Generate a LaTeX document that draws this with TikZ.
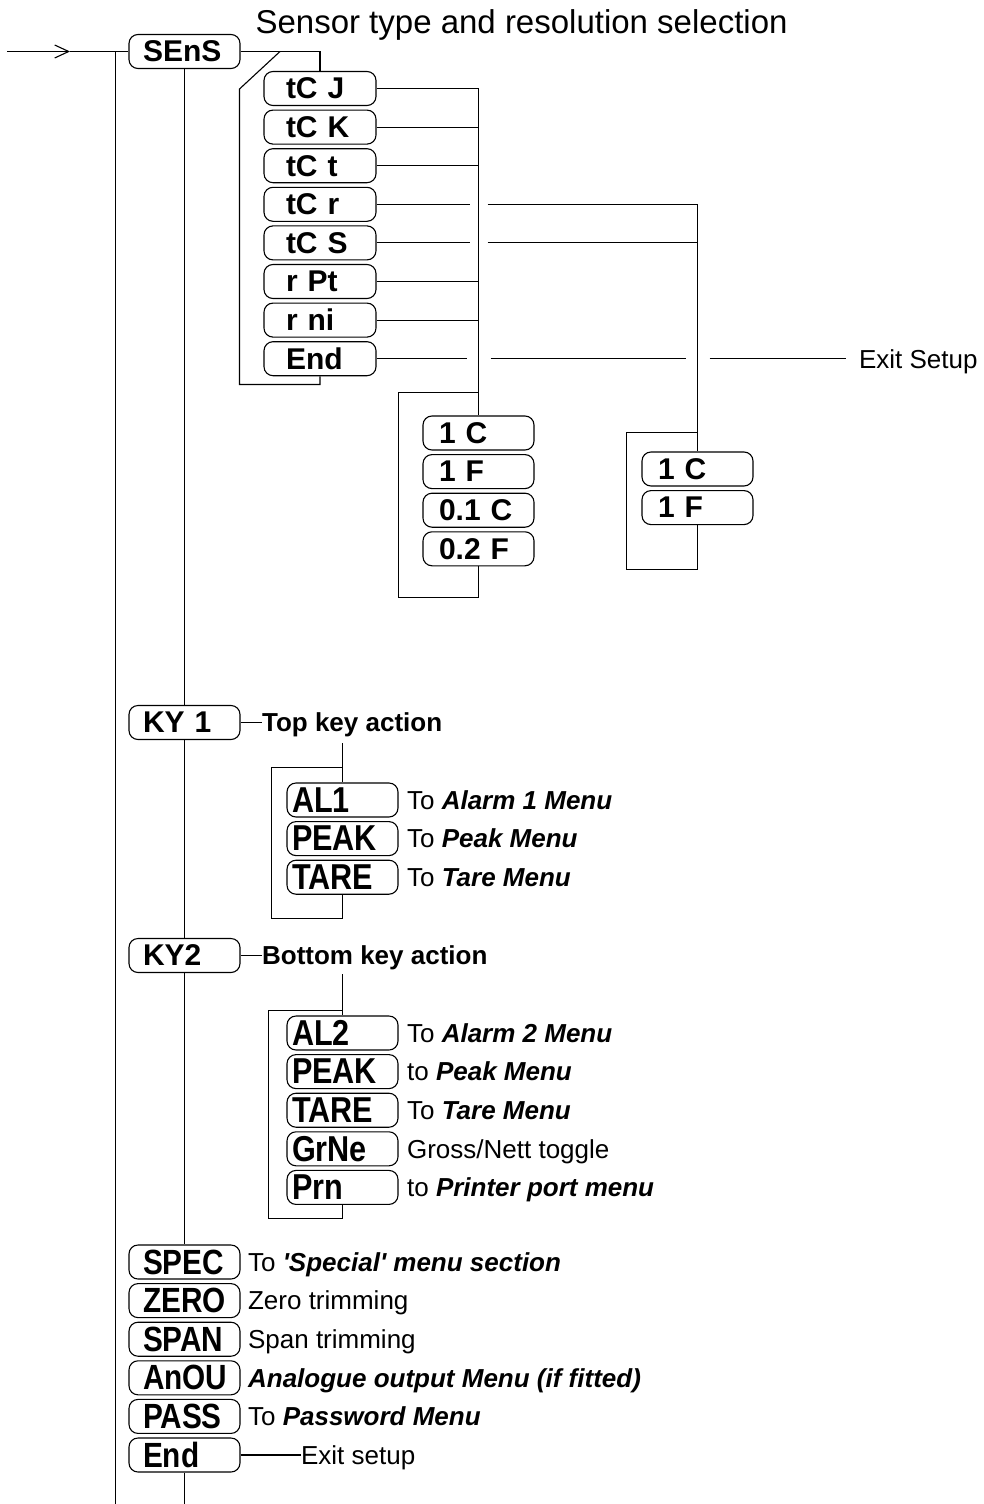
\documentclass[tikz,border=0pt]{standalone}
\usepackage{fontspec}
\setmainfont{Liberation Sans}
\newfontfamily\narrowfont[FakeStretch=0.85]{Liberation Sans}
\usetikzlibrary{positioning, calc, arrows.meta}

\begin{document}
\begin{tikzpicture}[
  x=1pt, y=-1pt,
  line width=1.1pt,
  node distance = 3.5pt,
  topNode/.style   ={rectangle, rounded corners=9pt, draw=black, minimum height=34pt, text width=83pt, inner xsep=14pt, inner ysep=0pt, align=left, font=\fontsize{30}{30}\selectfont\bfseries},
  sensNode/.style  ={rectangle, rounded corners=9pt, draw=black, minimum height=34pt, text width=68pt, inner xsep=22pt, inner ysep=0pt, align=left, font=\fontsize{30}{30}\selectfont\bfseries},
  resNode/.style   ={rectangle, rounded corners=9pt, draw=black, minimum height=34pt, text width=79pt, inner xsep=16pt, inner ysep=0pt, align=left, font=\fontsize{30}{30}\selectfont\bfseries},
  keyNode/.style   ={rectangle, rounded corners=9pt, draw=black, minimum height=34pt, text width=101pt, inner xsep=5pt, inner ysep=0pt, align=left, font=\narrowfont\fontsize{36}{36}\selectfont\bfseries},
  menuNode/.style  ={rectangle, rounded corners=9pt, draw=black, minimum height=34pt, text width=83pt, inner xsep=14pt, inner ysep=0pt, align=left, font=\narrowfont\fontsize{35}{35}\selectfont\bfseries},
  descText/.style  ={anchor=west, inner sep=0pt, text height=18.6pt, text depth=0pt, font=\fontsize{26}{28}\selectfont},
  headText/.style  ={anchor=west, inner sep=0pt, text height=18.6pt, text depth=0pt, font=\fontsize{26}{28}\selectfont\bfseries},
  titleText/.style ={anchor=west, inner sep=0pt, text height=23pt, text depth=0pt, font=\fontsize{33}{35}\selectfont},
  arrow/.style     ={-{Straight Barb[length=14pt,width=13pt]}}
]
\useasboundingbox (0,0) rectangle (983,1504);

% ================== ENTRY ==================
\node[topNode] (SEnS) at (184.5,51.5) {SEnS};
\node[titleText] (title) at (255,22) {Sensor type and resolution selection};

\coordinate (entry) at (7,51.5);
\coordinate (tip) at (70,51.5);
\coordinate (mainTop) at (115.5,51.5);
\coordinate (mainBot) at (115.5,1504);
\draw[arrow] (entry) -- (tip);
\draw (tip) -- (SEnS.west);
\draw (mainTop) -- (mainBot);

% ================== SENSOR LIST ==================
\node[sensNode] (tcJ) at (320,88.5) {tC J};
\node[sensNode, below=of tcJ] (tcK) {tC K};
\node[sensNode, below=of tcK] (tcT) {tC t};
\node[sensNode, below=of tcT] (tcR) {tC r};
\node[sensNode, below=of tcR] (tcS) {tC S};
\node[sensNode, below=of tcS] (rPt) {r Pt};
\node[sensNode, below=of rPt] (rNi) {r ni};
\node[sensNode, below=of rNi] (tcEnd) {End};

\draw (SEnS.east) -| (tcJ.north);

% return path round the list
\coordinate (loopA) at (280,51.5);
\coordinate (loopB) at (239.5,89);
\coordinate (loopC) at (239.5,384.5);
\draw (loopA) -- (loopB) -- (loopC) -| (tcEnd.south);

% ================== BUS TO RESOLUTION ==================
\coordinate (busOneTop) at (478.5,88);
\coordinate (busOneFork) at (478.5,392.5);
\coordinate (busTwoTop) at (697.5,0);
\coordinate (busTwoFork) at (697.5,432.5);

\draw (tcJ.east) -- (tcJ.east -| busOneTop);
\draw (tcK.east) -- (tcK.east -| busOneTop);
\draw (tcT.east) -- (tcT.east -| busOneTop);
\draw (rPt.east) -- (rPt.east -| busOneTop);
\draw (rNi.east) -- (rNi.east -| busOneTop);

% tC r and tC S hop over the first bus
\draw (tcR.east) -- ($(tcR.east -| busOneTop)+(-9,0)$);
\draw ($(tcR.east -| busOneTop)+(9,0)$) -- (tcR.east -| busTwoTop);
\draw (tcS.east) -- ($(tcS.east -| busOneTop)+(-9,0)$);
\draw ($(tcS.east -| busOneTop)+(9,0)$) -- (tcS.east -| busTwoTop);

% End hops over both buses
\node[descText, right=482pt of tcEnd] (exitTop) {Exit Setup};
\draw (tcEnd.east) -- ($(tcEnd.east -| busOneTop)+(-12,0)$);
\draw ($(tcEnd.east -| busOneTop)+(12,0)$) -- ($(tcEnd.east -| busTwoTop)+(-12,0)$);
\draw ($(tcEnd.east -| busTwoTop)+(12,0)$) -- ($(tcEnd.east -| exitTop.west)+(-13,0)$);

% ================== RESOLUTION (tC J, K, t, r Pt, r ni) ==================
\node[resNode] (resOneC) at (478.5,433) {1 C};
\node[resNode, below=of resOneC] (resOneF) {1 F};
\node[resNode, below=of resOneF] (resPointOneC) {0.1 C};
\node[resNode, below=of resPointOneC] (resPointTwoF) {0.2 F};

\coordinate (resOneLeft) at (398.5,392.5);
\coordinate (resOneLow) at (398.5,597.5);
\draw (tcJ.east -| busOneTop) -- (busOneFork) -- (resOneC.north);
\draw (busOneFork) -- (resOneLeft) -- (resOneLow) -| (resPointTwoF.south);

% ================== RESOLUTION (tC r, tC S) ==================
\node[resNode] (resTwoC) at (697.5,469) {1 C};
\node[resNode, below=of resTwoC] (resTwoF) {1 F};

\coordinate (resTwoLeft) at (626.5,432.5);
\coordinate (resTwoLow) at (626.5,569.5);
\draw (tcR.east -| busTwoTop) -- (busTwoFork) -- (resTwoC.north);
\draw (busTwoFork) -- (resTwoLeft) -- (resTwoLow) -| (resTwoF.south);

% ================== TOP KEY ==================
\node[topNode] (KYone) at (184.5,722.5) {KY 1};
\node[headText, right=21pt of KYone] (KYoneHead) {Top key action};
\draw (SEnS.south) -- (KYone.north);
\draw (KYone.east) -- (KYone.east -| KYoneHead.west);

\node[keyNode] (keyOneAL) at (342.5,800) {AL1};
\node[keyNode, below=of keyOneAL] (keyOnePEAK) {PEAK};
\node[keyNode, below=of keyOnePEAK] (keyOneTARE) {TARE};
\node[descText, right=8pt of keyOneAL] (descOneAL) {To \textbf{\textit{Alarm 1 Menu}}};
\node[descText, right=8pt of keyOnePEAK] (descOnePEAK) {To \textbf{\textit{Peak Menu}}};
\node[descText, right=8pt of keyOneTARE] (descOneTARE) {To \textbf{\textit{Tare Menu}}};

\coordinate (keyOneTop) at (342.5,743);
\coordinate (keyOneFork) at (342.5,767.5);
\coordinate (keyOneLeft) at (271.5,767.5);
\coordinate (keyOneLow) at (271.5,918.5);
\draw (keyOneTop) -- (keyOneAL.north);
\draw (keyOneFork) -- (keyOneLeft) -- (keyOneLow) -| (keyOneTARE.south);

% ================== BOTTOM KEY ==================
\node[topNode] (KYtwo) at (184.5,955.5) {KY2};
\node[headText, right=21pt of KYtwo] (KYtwoHead) {Bottom key action};
\draw (KYone.south) -- (KYtwo.north);
\draw (KYtwo.east) -- (KYtwo.east -| KYtwoHead.west);

\node[keyNode] (keyTwoAL) at (342.5,1033) {AL2};
\node[keyNode, below=of keyTwoAL] (keyTwoPEAK) {PEAK};
\node[keyNode, below=of keyTwoPEAK] (keyTwoTARE) {TARE};
\node[keyNode, below=of keyTwoTARE] (keyTwoGrNe) {GrNe};
\node[keyNode, below=of keyTwoGrNe] (keyTwoPrn) {Prn};
\node[descText, right=8pt of keyTwoAL] (descTwoAL) {To \textbf{\textit{Alarm 2 Menu}}};
\node[descText, right=8pt of keyTwoPEAK] (descTwoPEAK) {to \textbf{\textit{Peak Menu}}};
\node[descText, right=8pt of keyTwoTARE] (descTwoTARE) {To \textbf{\textit{Tare Menu}}};
\node[descText, right=8pt of keyTwoGrNe] (descTwoGrNe) {Gross/Nett toggle};
\node[descText, right=8pt of keyTwoPrn] (descTwoPrn) {to \textbf{\textit{Printer port menu}}};

\coordinate (keyTwoTop) at (342.5,974);
\coordinate (keyTwoFork) at (342.5,1010.5);
\coordinate (keyTwoLeft) at (268.5,1010.5);
\coordinate (keyTwoLow) at (268.5,1218.5);
\draw (keyTwoTop) -- (keyTwoAL.north);
\draw (keyTwoFork) -- (keyTwoLeft) -- (keyTwoLow) -| (keyTwoPrn.south);

% ================== REMAINING MENU ==================
\node[menuNode] (menuSPEC) at (184.5,1262) {SPEC};
\node[menuNode, below=of menuSPEC] (menuZERO) {ZERO};
\node[menuNode, below=of menuZERO] (menuSPAN) {SPAN};
\node[menuNode, below=of menuSPAN] (menuAnOU) {AnOU};
\node[menuNode, below=of menuAnOU] (menuPASS) {PASS};
\node[menuNode, below=of menuPASS] (menuEnd) {End};
\draw (KYtwo.south) -- (menuSPEC.north);

\node[descText, right=7pt of menuSPEC] (descSPEC) {To \textbf{\textit{\textquotesingle Special\textquotesingle{} menu section}}};
\node[descText, right=7pt of menuZERO] (descZERO) {Zero trimming};
\node[descText, right=7pt of menuSPAN] (descSPAN) {Span trimming};
\node[descText, right=7pt of menuAnOU] (descAnOU) {\textbf{\textit{Analogue output Menu (if fitted)}}};
\node[descText, right=7pt of menuPASS] (descPASS) {To \textbf{\textit{Password Menu}}};

\node[descText, right=60pt of menuEnd] (exitBottom) {Exit setup};
\draw (menuEnd.east) -- (menuEnd.east -| exitBottom.west);

\coordinate (innerBot) at (184.5,1504);
\draw (menuEnd.south) -- (innerBot);

\end{tikzpicture}
\end{document}
